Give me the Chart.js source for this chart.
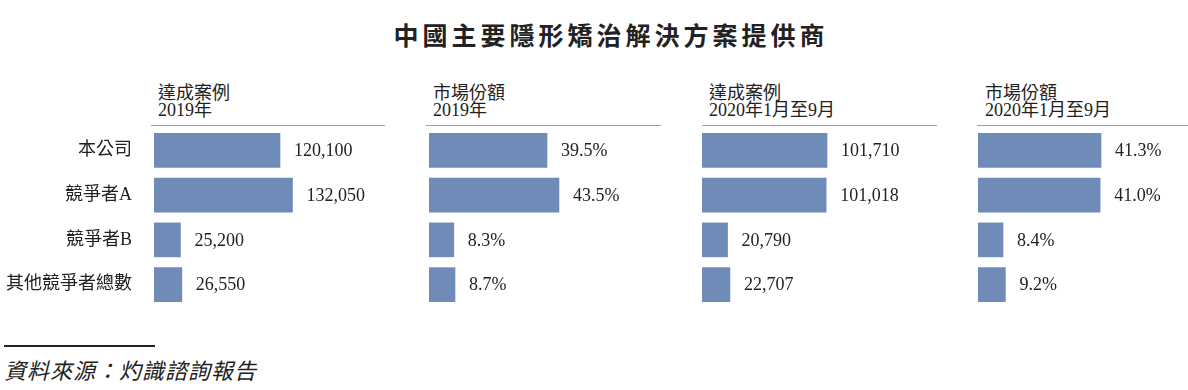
<!DOCTYPE html>
<html>
<head>
<meta charset="utf-8">
<script src="https://cdn.jsdelivr.net/npm/chart.js@4.4.0/dist/chart.umd.min.js"></script>
<style>
  body { margin: 0; width: 1188px; height: 390px; background: #fff; overflow: hidden; position: relative;
         font-family: "Liberation Serif", "Noto Sans CJK TC", serif; color: #222; }
  .abs { position: absolute; }
  #title { left: 17px; width: 1188px; top: 16px; text-align: center; font-size: 25px; font-weight: bold; letter-spacing: 4px; }
  .head { font-size: 18px; line-height: 17px; top: 85px; }
  .rule { height: 0; border-top: 1.5px solid #8ea2c4; top: 125px; }
  #srcRule { left: 4px; top: 345px; width: 151px; border-top: 2px solid #222; }
  #src { left: 4px; top: 353px; font-size: 22px; font-style: italic; letter-spacing: 1px; }
</style>
</head>
<body>
<div id="title" class="abs">中國主要隱形矯治解決方案提供商</div>

<div class="abs head" style="left:158px">達成案例<br>2019年</div>
<div class="abs rule" style="left:151px;width:234px"></div>
<div class="abs head" style="left:433px">市場份額<br>2019年</div>
<div class="abs rule" style="left:426px;width:235px"></div>
<div class="abs head" style="left:709px">達成案例<br>2020年1月至9月</div>
<div class="abs rule" style="left:702px;width:235px"></div>
<div class="abs head" style="left:985px">市場份額<br>2020年1月至9月</div>
<div class="abs rule" style="left:977px;width:211px"></div>

<div class="abs" style="left:0;top:128px;width:390px;height:179px"><canvas id="c1"></canvas></div>
<div class="abs" style="left:429px;top:128px;width:236px;height:179px"><canvas id="c2"></canvas></div>
<div class="abs" style="left:702px;top:128px;width:236px;height:179px"><canvas id="c3"></canvas></div>
<div class="abs" style="left:978px;top:128px;width:210px;height:179px"><canvas id="c4"></canvas></div>

<div id="srcRule" class="abs"></div>
<div id="src" class="abs">資料來源：灼識諮詢報告</div>

<script>
// categories
const companies = ['本公司', '競爭者A', '競爭者B', '其他競爭者總數'];

// series values
const cases2019 = [120100, 132050, 25200, 26550];
const share2019 = [39.5, 43.5, 8.3, 8.7];
const cases2020 = [101710, 101018, 20790, 22707];
const share2020 = [41.3, 41.0, 8.4, 9.2];

const barColor = '#6f8cb8';
const fontFamily = '"Liberation Serif", "Noto Sans CJK TC", serif';

const fmtCount = v => Number(v).toLocaleString('en-US');
const fmtPct = v => Number(v).toFixed(1) + '%';
// which formatter each canvas uses for its value labels
const formats = { c1: fmtCount, c2: fmtPct, c3: fmtCount, c4: fmtPct };

// draws the value next to the end of each bar
const valueLabels = {
  id: 'valueLabels',
  afterDatasetsDraw(chart) {
    const ctx = chart.ctx;
    const fmt = formats[chart.canvas.id];
    const meta = chart.getDatasetMeta(0);
    ctx.save();
    ctx.font = '18px ' + fontFamily;
    ctx.fillStyle = '#222';
    ctx.textAlign = 'left';
    ctx.textBaseline = 'middle';
    meta.data.forEach((bar, i) => {
      ctx.fillText(fmt(chart.data.datasets[0].data[i]), bar.x + 14, bar.y + 1);
    });
    ctx.restore();
  }
};

function makeChart(id, values, max, showCategories) {
  const yAxis = {
    display: showCategories,
    grid: { display: false, drawTicks: false },
    border: { display: false },
    ticks: { color: '#222', padding: 22, font: { family: fontFamily, size: 18 } }
  };
  if (showCategories) {
    // fixed label column; drop the label padding so bars keep full height
    yAxis.afterFit = s => { s.width = 154; s.paddingTop = 0; s.paddingBottom = 0; };
  }
  new Chart(document.getElementById(id), {
    type: 'bar',
    data: {
      labels: companies,
      datasets: [{
        data: values,
        backgroundColor: barColor,
        barThickness: 34
      }]
    },
    options: {
      indexAxis: 'y',
      responsive: true,
      maintainAspectRatio: false,
      animation: false,
      layout: { padding: 0 },
      plugins: {
        legend: { display: false },
        tooltip: { enabled: false }
      },
      scales: {
        x: { display: false, min: 0, max: max },
        y: yAxis
      }
    },
    plugins: [valueLabels]
  });
}

makeChart('c1', cases2019, 225000, true);
makeChart('c2', share2019, 79, false);
makeChart('c3', cases2020, 192000, false);
makeChart('c4', share2020, 70.5, false);
</script>
</body>
</html>
